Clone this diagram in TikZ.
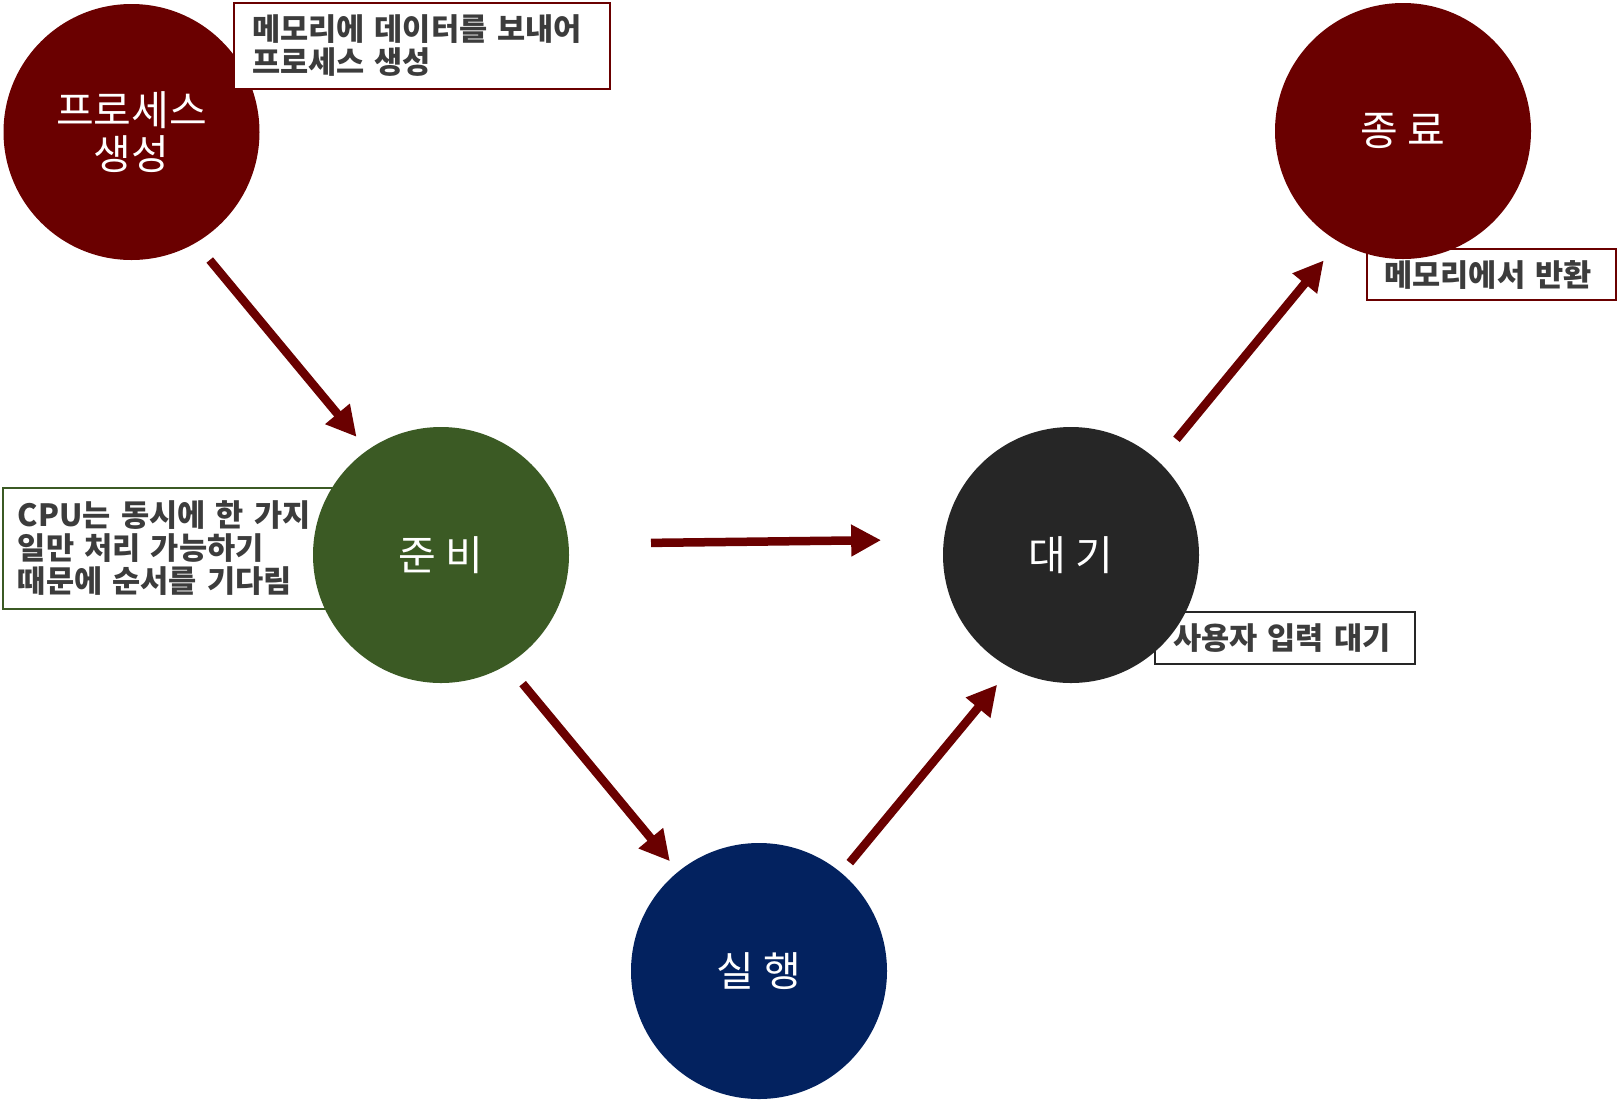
\documentclass[tikz,border=0pt]{standalone}
\usepackage{fontspec}
\setmainfont{Noto Sans CJK KR}
\usepackage{xcolor}
\usetikzlibrary{arrows.meta,positioning,backgrounds}

\definecolor{darkred}{HTML}{6A0000}
\definecolor{readygreen}{HTML}{3B5A24}
\definecolor{runblue}{HTML}{03225F}
\definecolor{waitgray}{HTML}{262626}
\definecolor{notegray}{HTML}{3C3C3C}

\begin{document}
\begin{tikzpicture}[
    on grid,
    state/.style={circle,fill=#1,text=white,minimum size=128pt,inner sep=0pt,outer sep=0pt,align=center,font=\fontsize{20.5pt}{22pt}\selectfont},
    note/.style={rectangle,draw=#1,line width=0.9pt,fill=white,text=notegray,align=left,inner ysep=0pt,font=\bfseries\fontsize{15.3pt}{16.5pt}\selectfont},
    arrow/.style={-{Triangle[length=15pt,width=15pt]},line width=4.25pt,draw=darkred}
]
\useasboundingbox (0,0) rectangle (808.5pt,-549.5pt);
% states
\node[state=darkred] (create) at (65.75pt,-66pt) {프로세스\\생성};
\node[state=readygreen,below right=211.5pt and 154.75pt of create] (ready) {준 비};
\node[state=runblue,below right=208pt and 159pt of ready] (run) {실 행};
\node[state=waitgray,right=315pt of ready] (wait) {대 기};
\node[state=darkred,above right=212pt and 166pt of wait] (done) {종 료};
% notes
\node[note=darkred,minimum width=188pt,minimum height=43pt,text width=170pt,above right=43pt and 145.25pt of create] (createnote) {메모리에 데이터를 보내어\\프로세스 생성};
\begin{scope}[on background layer]
\node[note=readygreen,minimum width=166pt,minimum height=60.5pt,text width=151pt,above left=3.25pt and 136pt of ready] (readynote) {CPU는 동시에 한 가지\\일만 처리 가능하기\\때문에 순서를 기다림};
\node[note=darkred,minimum width=124.5pt,minimum height=25.5pt,text width=107pt,below right=71.75pt and 44.25pt of done] (donenote) {메모리에서 반환};
\end{scope}
\node[note=waitgray,draw=none,fill=none,minimum width=129pt,minimum height=25pt,text width=112pt,below right=41.5pt and 107pt of wait] (waitnote) {사용자 입력 대기};
\begin{scope}[on background layer]
\draw[waitgray,line width=0.9pt,fill=white] (waitnote.south west) rectangle (waitnote.north east);
\end{scope}
% transitions
\draw[arrow,shorten <=11.15pt,shorten >=8.6pt] (create.-60) -- (ready.125.4);
\draw[arrow,shorten <=41.25pt,shorten >=31.4pt] (ready.5.1) -- (wait.173.5);
\draw[arrow,shorten <=12.3pt,shorten >=6.7pt] (ready.-59.3) -- (run.129.5);
\draw[arrow,shorten <=6.7pt,shorten >=10.8pt] (run.50.5) -- (wait.-118.6);
\draw[arrow,shorten <=14.3pt,shorten >=12pt] (wait.47.9) -- (done.-120.3);
\end{tikzpicture}
\end{document}
